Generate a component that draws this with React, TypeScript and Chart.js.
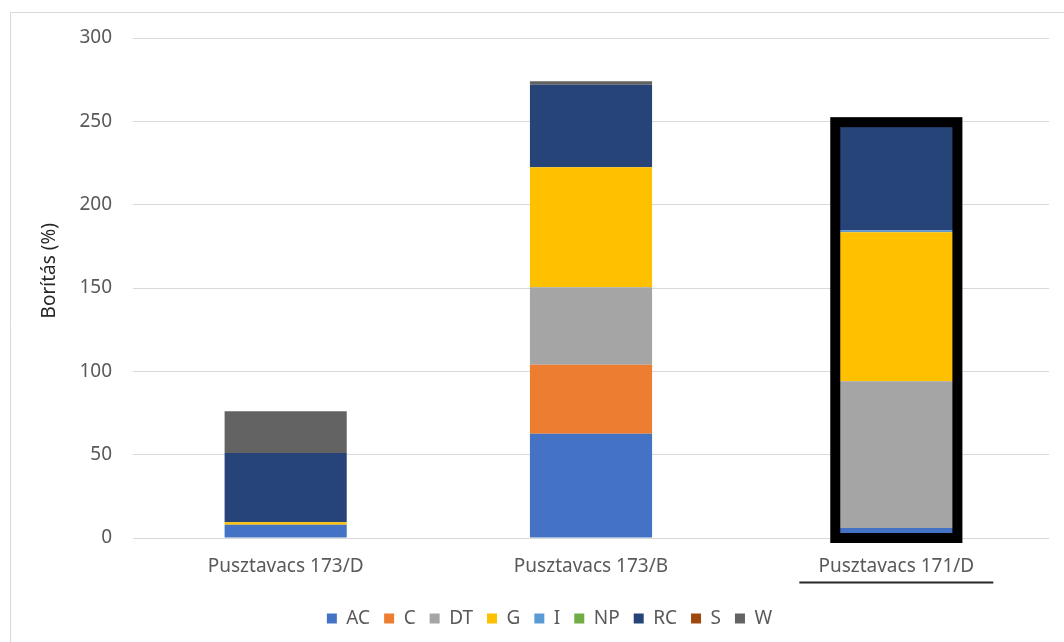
import React, { useEffect, useRef } from "react";
import { Chart, registerables } from "chart.js";

Chart.register(...registerables);

const categories = ["Pusztavacs 173/D", "Pusztavacs 173/B", "Pusztavacs 171/D"];
const seriesNames = ["AC", "C", "DT", "G", "I", "NP", "RC", "S", "W"];
const seriesColors = ["#4472C4", "#ED7D31", "#A5A5A5", "#FFC000", "#5B9BD5", "#70AD47", "#264478", "#9E480E", "#636363"];

const AC = [8, 62.5, 6];
const C = [0, 41.5, 0];
const DT = [0, 46.5, 88];
const G = [1.5, 72, 89.5];
const I = [0, 0, 1];
const NP = [0, 0, 0];
const RC = [41.5, 49.5, 65];
const S = [0, 0, 0];
const W = [25, 2, 0];

const seriesValues = [AC, C, DT, G, I, NP, RC, S, W];

const yMin = 0;
const yMax = 300;
const yStep = 50;
const highlightedIndex = 2;

const FONT = "'Noto Sans', sans-serif";

export default function App() {
  const ref = useRef<HTMLCanvasElement>(null);

  useEffect(() => {
    if (!ref.current) return;

    const framePlugin = {
      id: "frame",
      beforeDraw(chart: any) {
        const ctx = chart.ctx;
        ctx.save();
        ctx.strokeStyle = "#D9D9D9";
        ctx.lineWidth = 1;
        ctx.beginPath();
        ctx.moveTo(10.5, chart.height);
        ctx.lineTo(10.5, 12.5);
        ctx.lineTo(chart.width, 12.5);
        ctx.stroke();
        ctx.restore();
      },
      afterLayout(chart: any) {
        if (chart.legend) {
          chart.legend.left += 20;
          chart.legend.right += 20;
        }
      },
    };

    const highlightPlugin = {
      id: "highlight",
      afterDatasetsDraw(chart: any) {
        const ctx = chart.ctx;
        const meta = chart.getDatasetMeta(0);
        const bar: any = meta.data[highlightedIndex];
        if (!bar) return;
        const total = seriesValues.reduce((s, arr) => s + arr[highlightedIndex], 0);
        const yScale = chart.scales.y;
        const top = yScale.getPixelForValue(total);
        const bottom = yScale.getPixelForValue(0);
        const w = bar.width;
        ctx.save();
        ctx.strokeStyle = "#000000";
        ctx.lineWidth = 10;
        ctx.strokeRect(bar.x - w / 2, top, w, bottom - top);
        ctx.restore();
      },
      afterDraw(chart: any) {
        const ctx = chart.ctx;
        const xScale = chart.scales.x;
        const cx = xScale.getPixelForValue(highlightedIndex);
        const y = xScale.top + 44.5;
        ctx.save();
        ctx.strokeStyle = "#262626";
        ctx.lineWidth = 2;
        ctx.beginPath();
        ctx.moveTo(cx - 97, y);
        ctx.lineTo(cx + 97, y);
        ctx.stroke();
        ctx.restore();
      },
    };

    const chart = new Chart(ref.current, {
      type: "bar",
      data: {
        labels: categories,
        datasets: seriesNames.map((name, i) => ({
          label: name,
          data: seriesValues[i],
          backgroundColor: seriesColors[i],
          borderWidth: 0,
          barPercentage: 0.4,
          categoryPercentage: 1,
        })),
      },
      options: {
        responsive: false,
        animation: false,
        devicePixelRatio: 1,
        layout: { padding: { left: 10, right: 15, top: 38, bottom: 4 } },
        plugins: {
          tooltip: { enabled: false },
          legend: {
            position: "bottom",
            labels: {
              boxWidth: 10,
              boxHeight: 10,
              padding: 14,
              color: "#595959",
              font: { family: FONT, size: 19 },
            },
          },
        },
        scales: {
          x: {
            stacked: true,
            grid: { display: false, drawTicks: false },
            border: { display: false },
            ticks: { color: "#595959", font: { family: FONT, size: 19 }, padding: 17, maxRotation: 0 },
            afterFit(scale: any) {
              scale.height = 57;
            },
          },
          y: {
            stacked: true,
            min: yMin,
            max: yMax,
            ticks: { stepSize: yStep, color: "#595959", font: { family: FONT, size: 19 }, padding: 21 },
            grid: { color: "#D9D9D9", lineWidth: 1, drawTicks: false },
            border: { display: false },
            title: {
              display: true,
              text: "       Borítás (%)",
              color: "#262626",
              font: { family: FONT, size: 19 },
              padding: { top: 28, bottom: 0 },
            },
            afterFit(scale: any) {
              scale.width = 123;
            },
          },
        },
      },
      plugins: [framePlugin, highlightPlugin],
    } as any);

    return () => chart.destroy();
  }, []);

  return (
    <div style={{ position: "absolute", left: 0, top: 0, width: 1064, height: 642, overflow: "hidden", background: "#ffffff" }}>
      <canvas ref={ref} width={1064} height={642} style={{ display: "block" }} />
    </div>
  );
}
